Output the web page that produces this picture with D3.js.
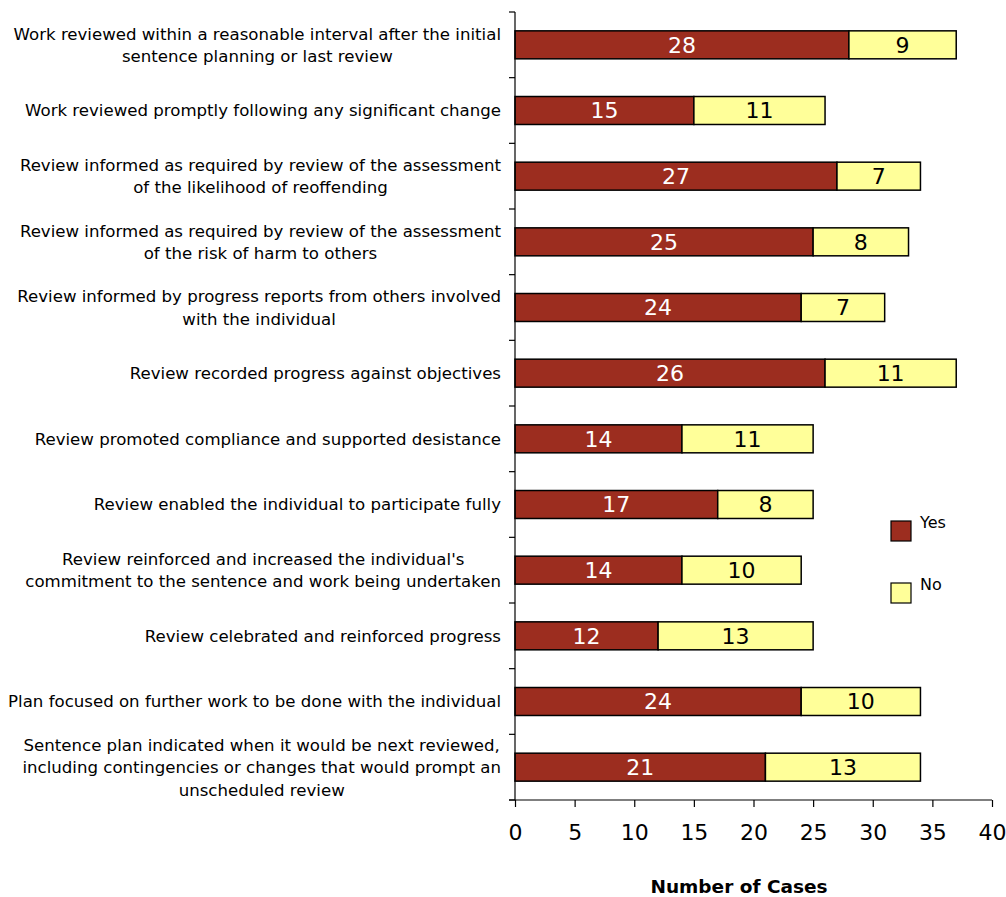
<!DOCTYPE html>
<html>
<head>
<meta charset="utf-8">
<script src="https://cdn.jsdelivr.net/npm/d3@7"></script>
<style>
  html, body { margin: 0; padding: 0; background: #fff; }
  svg { display: block; }
  text { font-family: "DejaVu Sans", sans-serif; }
</style>
</head>
<body>
<svg id="chart" width="1006" height="897"></svg>
<script>
// Review criteria (each entry is a list of label lines)
const categories = [
  ["Work reviewed within a reasonable interval after the initial", "sentence planning or last review"],
  ["Work reviewed promptly following any significant change"],
  ["Review informed as required by review of the assessment", "of the likelihood of reoffending"],
  ["Review informed as required by review of the assessment", "of the risk of harm to others"],
  ["Review informed by progress reports from others involved", "with the individual"],
  ["Review recorded progress against objectives"],
  ["Review promoted compliance and supported desistance"],
  ["Review enabled the individual to participate fully"],
  ["Review reinforced and increased the individual's", "commitment to the sentence and work being undertaken"],
  ["Review celebrated and reinforced progress"],
  ["Plan focused on further work to be done with the individual"],
  ["Sentence plan indicated when it would be next reviewed,", "including contingencies or changes that would prompt an", "unscheduled review"]
];
const yesValues = [28, 15, 27, 25, 24, 26, 14, 17, 14, 12, 24, 21];
const noValues  = [9, 11, 7, 8, 7, 11, 11, 8, 10, 13, 10, 13];
const seriesNames = ["Yes", "No"];
const xTicks = [0, 5, 10, 15, 20, 25, 30, 35, 40];
const axisTitle = "Number of Cases";

const colors = { Yes: "#9c2d1f", No: "#ffff99" };

const svg = d3.select("#chart");
const plot = { left: 515, right: 992, top: 12, bottom: 800 };

const keys = categories.map((c, i) => i);
const x = d3.scaleLinear().domain([0, 40]).range([plot.left, plot.right]);
const y = d3.scaleBand().domain(keys).range([plot.top, plot.bottom])
  .paddingInner(0.574).paddingOuter(0.287);

// stacked rows
const rows = keys.map(i => ({ key: i, Yes: yesValues[i], No: noValues[i] }));
const stacked = d3.stack().keys(seriesNames)(rows);

const bars = svg.append("g");
stacked.forEach(layer => {
  const g = bars.append("g");
  g.selectAll("rect").data(layer).join("rect")
    .attr("x", d => x(d[0]))
    .attr("y", d => y(d.data.key))
    .attr("width", d => x(d[1]) - x(d[0]))
    .attr("height", y.bandwidth())
    .attr("fill", colors[layer.key])
    .attr("stroke", "#000")
    .attr("stroke-width", 1.5);
  g.selectAll("text").data(layer).join("text")
    .attr("x", d => (x(d[0]) + x(d[1])) / 2)
    .attr("y", d => y(d.data.key) + y.bandwidth() / 2)
    .attr("dy", "0.36em")
    .attr("text-anchor", "middle")
    .attr("font-size", 22)
    .attr("fill", layer.key === "Yes" ? "#fff" : "#000")
    .text(d => d[1] - d[0]);
});

// y axis line with ticks at band boundaries
const yAxisG = svg.append("g");
yAxisG.append("line")
  .attr("x1", plot.left).attr("x2", plot.left)
  .attr("y1", plot.top).attr("y2", plot.bottom)
  .attr("stroke", "#000").attr("stroke-width", 1.2);
const bounds = d3.range(categories.length + 1).map(i => plot.top + i * (plot.bottom - plot.top) / categories.length);
yAxisG.selectAll("line.tick").data(bounds).join("line")
  .attr("class", "tick")
  .attr("x1", plot.left - 6).attr("x2", plot.left)
  .attr("y1", d => d).attr("y2", d => d)
  .attr("stroke", "#000").attr("stroke-width", 1.2);

// category labels, lines centred on each other, block right-aligned
const labelRight = 501;
const lineH = 22.5;
const labelG = svg.append("g");
categories.forEach((lines, i) => {
  const cy = y(i) + y.bandwidth() / 2;
  const t = labelG.append("text")
    .attr("font-size", 16.6)
    .attr("fill", "#000")
    .attr("text-anchor", "middle");
  const tspans = lines.map((ln, j) => t.append("tspan")
    .attr("y", cy + (j - (lines.length - 1) / 2) * lineH)
    .attr("dy", "0.36em")
    .text(ln));
  const w = d3.max(tspans, s => s.node().getComputedTextLength());
  tspans.forEach(s => s.attr("x", labelRight - w / 2));
});

// x axis
const xAxis = d3.axisBottom(x).tickValues(xTicks).tickSize(7).tickPadding(17).tickSizeOuter(0);
const xg = svg.append("g").attr("transform", `translate(0,${plot.bottom})`).call(xAxis);
xg.select(".domain").attr("stroke", "#000").attr("stroke-width", 1.2)
  .attr("d", `M${plot.left - 6},0H${plot.right}`);
xg.selectAll(".tick line").attr("stroke", "#000").attr("stroke-width", 1.2);
xg.selectAll(".tick text")
  .attr("font-size", 22)
  .attr("font-family", "\"DejaVu Sans\", sans-serif")
  .attr("fill", "#000");

svg.append("text")
  .attr("x", 739).attr("y", 893)
  .attr("text-anchor", "middle")
  .attr("font-size", 18.5)
  .attr("font-weight", "bold")
  .text(axisTitle);

// legend
const legend = svg.append("g");
const legendItems = [
  { name: "Yes", y: 521 },
  { name: "No", y: 583 }
];
legendItems.forEach(it => {
  legend.append("rect")
    .attr("x", 891).attr("y", it.y)
    .attr("width", 20).attr("height", 20)
    .attr("fill", colors[it.name])
    .attr("stroke", "#000").attr("stroke-width", 1.2);
  legend.append("text")
    .attr("x", 920).attr("y", it.y + 7)
    .attr("font-size", 16)
    .text(it.name);
});
</script>
</body>
</html>
